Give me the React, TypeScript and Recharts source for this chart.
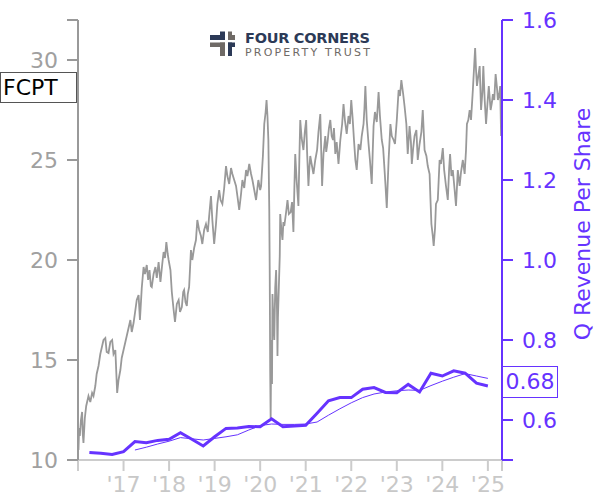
import React from 'react';
import { LineChart, Line, XAxis, YAxis } from 'recharts';

// close price, sampled (decimal year, price)
const priceSeries: [number, number][] = [
  [2016.01, 10.5], [2016.025, 11.6], [2016.04, 11.2], [2016.065, 12.0], [2016.09, 12.4],
  [2016.105, 11.3], [2016.12, 10.85], [2016.15, 12.1], [2016.18, 12.7], [2016.2, 12.9],
  [2016.23, 13.2], [2016.27, 12.9], [2016.31, 13.35], [2016.34, 13.2], [2016.38, 13.7],
  [2016.41, 14.3], [2016.45, 14.7], [2016.49, 15.3], [2016.53, 15.7], [2016.56, 16.0],
  [2016.6, 16.1], [2016.63, 15.4], [2016.67, 15.35], [2016.71, 15.9], [2016.75, 16.0],
  [2016.78, 15.3], [2016.82, 15.5], [2016.86, 13.35], [2016.89, 14.0], [2016.93, 14.5],
  [2016.96, 15.1], [2017.0, 15.5], [2017.04, 15.9], [2017.07, 16.2], [2017.11, 16.6],
  [2017.15, 17.0], [2017.18, 16.4], [2017.22, 16.85], [2017.26, 17.5], [2017.29, 18.0],
  [2017.33, 18.25], [2017.36, 17.0], [2017.4, 18.6], [2017.44, 19.65], [2017.47, 19.3],
  [2017.51, 19.75], [2017.54, 19.0], [2017.57, 19.5], [2017.6, 18.7], [2017.62, 18.65],
  [2017.66, 19.3], [2017.7, 19.65], [2017.73, 19.1], [2017.77, 19.9], [2017.81, 18.9],
  [2017.85, 19.8], [2017.88, 20.4], [2017.91, 20.1], [2017.94, 20.9], [2017.97, 20.3],
  [2017.99, 20.0], [2018.03, 19.5], [2018.06, 18.4], [2018.1, 17.5], [2018.13, 16.9],
  [2018.17, 17.8], [2018.21, 18.0], [2018.24, 17.4], [2018.28, 17.65], [2018.31, 18.4],
  [2018.33, 18.5], [2018.36, 17.9], [2018.39, 17.7], [2018.41, 18.3], [2018.44, 18.65],
  [2018.48, 20.5], [2018.51, 20.0], [2018.55, 20.6], [2018.59, 21.0], [2018.62, 22.0],
  [2018.66, 21.5], [2018.7, 21.2], [2018.73, 20.8], [2018.77, 21.5], [2018.81, 21.8],
  [2018.85, 21.4], [2018.88, 22.2], [2018.92, 23.2], [2018.95, 22.0], [2018.99, 20.8],
  [2019.03, 21.8], [2019.06, 22.8], [2019.1, 23.5], [2019.13, 23.0], [2019.17, 22.8],
  [2019.21, 23.6], [2019.25, 24.7], [2019.28, 24.2], [2019.32, 23.8], [2019.36, 24.6],
  [2019.39, 24.3], [2019.43, 24.0], [2019.47, 23.7], [2019.5, 23.2], [2019.54, 22.5],
  [2019.58, 23.3], [2019.61, 24.0], [2019.65, 23.6], [2019.69, 24.5], [2019.72, 24.2],
  [2019.76, 24.8], [2019.8, 24.3], [2019.83, 24.0], [2019.87, 23.5], [2019.91, 23.0],
  [2019.94, 23.6], [2019.96, 24.0], [2020.0, 23.5], [2020.02, 23.7], [2020.06, 25.2],
  [2020.09, 26.8], [2020.12, 27.4], [2020.14, 28.0], [2020.16, 27.2], [2020.18, 26.0],
  [2020.2, 22.5], [2020.21, 19.3], [2020.22, 14.5], [2020.23, 12.1], [2020.24, 15.0],
  [2020.25, 16.0], [2020.26, 13.8], [2020.27, 18.3], [2020.29, 17.0], [2020.31, 16.0],
  [2020.33, 18.6], [2020.35, 19.5], [2020.37, 17.4], [2020.38, 15.2], [2020.39, 17.1],
  [2020.41, 18.65], [2020.43, 20.2], [2020.44, 22.3], [2020.47, 21.4], [2020.49, 21.0],
  [2020.51, 21.9], [2020.53, 21.7], [2020.57, 22.4], [2020.6, 23.0], [2020.63, 22.3],
  [2020.67, 22.4], [2020.7, 22.9], [2020.73, 21.4], [2020.75, 23.5], [2020.77, 25.3],
  [2020.8, 24.0], [2020.84, 22.7], [2020.86, 25.0], [2020.88, 27.0], [2020.91, 26.1],
  [2020.95, 25.5], [2020.98, 26.4], [2021.01, 27.0], [2021.03, 25.4], [2021.06, 23.7],
  [2021.08, 24.6], [2021.1, 25.2], [2021.13, 24.8], [2021.17, 24.3], [2021.21, 25.0],
  [2021.25, 25.5], [2021.28, 26.4], [2021.32, 27.3], [2021.34, 25.5], [2021.36, 23.7],
  [2021.39, 25.3], [2021.43, 26.2], [2021.45, 25.4], [2021.48, 25.9], [2021.51, 26.6],
  [2021.54, 27.0], [2021.57, 26.2], [2021.6, 26.0], [2021.62, 26.6], [2021.65, 25.3],
  [2021.68, 25.9], [2021.72, 24.8], [2021.76, 26.0], [2021.8, 26.8], [2021.83, 27.8],
  [2021.86, 27.0], [2021.9, 26.3], [2021.94, 27.2], [2021.97, 26.8], [2022.0, 28.0],
  [2022.03, 27.1], [2022.06, 26.0], [2022.09, 25.0], [2022.12, 24.5], [2022.16, 25.8],
  [2022.2, 25.5], [2022.23, 26.2], [2022.27, 26.8], [2022.29, 27.6], [2022.31, 28.7],
  [2022.34, 27.0], [2022.38, 25.8], [2022.41, 25.0], [2022.45, 23.8], [2022.47, 25.3],
  [2022.49, 26.7], [2022.52, 27.4], [2022.56, 26.9], [2022.6, 28.4], [2022.63, 27.2],
  [2022.67, 26.0], [2022.7, 25.6], [2022.72, 24.9], [2022.75, 23.8], [2022.78, 22.6],
  [2022.82, 25.0], [2022.86, 26.8], [2022.89, 26.2], [2022.93, 26.0], [2022.96, 25.8],
  [2023.0, 27.0], [2023.04, 28.5], [2023.07, 28.2], [2023.1, 29.0], [2023.14, 28.3],
  [2023.17, 27.7], [2023.21, 26.8], [2023.24, 25.3], [2023.28, 26.7], [2023.31, 25.9],
  [2023.33, 24.8], [2023.36, 25.6], [2023.39, 26.2], [2023.43, 26.5], [2023.46, 25.0],
  [2023.5, 25.8], [2023.54, 26.4], [2023.57, 27.5], [2023.61, 25.5], [2023.65, 25.2],
  [2023.68, 24.7], [2023.72, 24.3], [2023.74, 23.0], [2023.76, 21.8], [2023.79, 21.2],
  [2023.81, 20.7], [2023.84, 21.6], [2023.86, 22.8], [2023.9, 23.0], [2023.92, 24.0],
  [2023.94, 25.0], [2023.97, 24.8], [2024.01, 25.6], [2024.04, 24.5], [2024.08, 23.7],
  [2024.12, 23.0], [2024.15, 24.6], [2024.17, 25.3], [2024.2, 24.2], [2024.23, 24.5],
  [2024.27, 23.5], [2024.3, 22.7], [2024.34, 24.5], [2024.38, 23.7], [2024.41, 24.4],
  [2024.45, 25.0], [2024.49, 24.3], [2024.52, 25.5], [2024.54, 26.8], [2024.57, 27.0],
  [2024.6, 27.5], [2024.63, 27.0], [2024.67, 28.5], [2024.72, 30.6], [2024.74, 29.5],
  [2024.76, 28.7], [2024.79, 29.2], [2024.82, 29.7], [2024.85, 27.5], [2024.88, 28.4],
  [2024.9, 29.7], [2024.93, 28.0], [2024.96, 26.8], [2024.99, 27.8], [2025.02, 28.7],
  [2025.06, 27.5], [2025.09, 27.9], [2025.11, 28.3], [2025.14, 28.0], [2025.17, 29.3],
  [2025.2, 28.6], [2025.22, 28.0], [2025.25, 28.3], [2025.27, 28.7], [2025.29, 26.2],
];

const quarters = [
  2016.25, 2016.5, 2016.75, 2017.0, 2017.25, 2017.5, 2017.75, 2018.0, 2018.25,
  2018.5, 2018.75, 2019.0, 2019.25, 2019.5, 2019.75, 2020.0, 2020.25, 2020.5,
  2020.75, 2021.0, 2021.25, 2021.5, 2021.75, 2022.0, 2022.25, 2022.5, 2022.75,
  2023.0, 2023.25, 2023.5, 2023.75, 2024.0, 2024.25, 2024.5, 2024.75, 2025.0,
];

const revenuePerShare = [
  0.519, 0.517, 0.514, 0.521, 0.546, 0.543, 0.549, 0.552, 0.568,
  0.552, 0.535, 0.558, 0.579, 0.58, 0.584, 0.583, 0.603, 0.583,
  0.585, 0.587, 0.617, 0.648, 0.656, 0.656, 0.677, 0.681, 0.669,
  0.668, 0.689, 0.67, 0.717, 0.71, 0.723, 0.717, 0.692, 0.685,
];

// trailing average, starts 2017.25
const revenueAvg = [
  0.525, 0.532, 0.54, 0.547, 0.556, 0.553, 0.55, 0.554, 0.558,
  0.563, 0.575, 0.586, 0.59, 0.589, 0.589, 0.59, 0.595, 0.612,
  0.628, 0.643, 0.656, 0.665, 0.67, 0.673, 0.675, 0.674, 0.686,
  0.697, 0.707, 0.716, 0.71, 0.704,
];

const xTicks = [2016, 2017, 2018, 2019, 2020, 2021, 2022, 2023, 2024, 2025, 2025.31];
const priceTicks = [10, 15, 20, 25, 30, 32];
const revTicks = [0.5, 0.6, 0.8, 1.0, 1.2, 1.4, 1.6];

const GRAY = '#999999';
const PURPLE = '#6633ff';
const FONT = 'DejaVu Sans';

const priceData = priceSeries.map(([t, price]) => ({ t, price }));
const revData = quarters.map((t, i) => ({ t, rev: revenuePerShare[i] }));
const avgData = quarters.slice(4).map((t, i) => ({ t, avg: revenueAvg[i] }));

function Logo() {
  const navy = '#2c3a57';
  const grey = '#6f6a66';
  return (
    <svg width={600} height={500} style={{ position: 'absolute', left: 0, top: 0, pointerEvents: 'none' }}>
      <rect x={210} y={35} width={15} height={5} fill={navy} />
      <rect x={220} y={31.5} width={5} height={8.5} fill={navy} />
      <rect x={228} y={35} width={7} height={5} fill={grey} />
      <rect x={228} y={31.5} width={4} height={8.5} fill={grey} />
      <rect x={210} y={42.5} width={15} height={4.5} fill={grey} />
      <rect x={220} y={42.5} width={5} height={13.5} fill={grey} />
      <rect x={228} y={42.5} width={7} height={4.5} fill={navy} />
      <rect x={228} y={42.5} width={4} height={13.5} fill={navy} />
      <text x={245} y={43} fontFamily={FONT} fontWeight="bold" fontSize={14.5} fill={navy}
        textLength={125} lengthAdjust="spacing">FOUR CORNERS</text>
      <text x={245} y={56} fontFamily={FONT} fontSize={11} fill={grey}
        textLength={125} lengthAdjust="spacing">PROPERTY TRUST</text>
    </svg>
  );
}

export default function App() {
  return (
    <div style={{ position: 'absolute', left: 0, top: 0, width: 600, height: 500, background: '#fff', fontFamily: FONT }}>
      <LineChart width={600} height={500} margin={{ top: 20, right: 0, bottom: 0, left: 0 }}>
        <XAxis
          dataKey="t"
          type="number"
          domain={[2016, 2025.31]}
          allowDataOverflow
          ticks={xTicks}
          interval={0}
          tickFormatter={(t: number) => (Number.isInteger(t) && t > 2016 ? `'${String(t).slice(2)}` : '')}
          height={40}
          stroke="#cccccc"
          strokeWidth={2}
          tickSize={11}
          tickMargin={5}
          tick={{ fill: '#c8c8c8', fontSize: 22, fontFamily: FONT }}
        />
        <YAxis
          yAxisId="p"
          domain={[10, 32]}
          allowDataOverflow
          ticks={priceTicks}
          interval={0}
          tickFormatter={(v: number) => (v === 32 ? '' : String(v))}
          width={78}
          stroke={GRAY}
          strokeWidth={2}
          tickSize={11}
          tickMargin={9}
          tick={{ fill: '#a0a0a0', fontSize: 22, fontFamily: FONT }}
        />
        <YAxis
          yAxisId="r"
          orientation="right"
          domain={[0.5, 1.6]}
          allowDataOverflow
          ticks={revTicks}
          interval={0}
          tickFormatter={(v: number) => (v === 0.5 ? '' : v.toFixed(1))}
          width={98}
          stroke={PURPLE}
          strokeWidth={2}
          tickSize={11}
          tickMargin={9}
          tick={{ fill: PURPLE, fontSize: 22, fontFamily: FONT }}
          label={{
            content: () => (
              <text x={582} y={224} transform="rotate(-90 582 224)" textAnchor="middle"
                dominantBaseline="central" fill={PURPLE} fontSize={22} fontFamily={FONT}>
                Q Revenue Per Share
              </text>
            ),
          }}
        />
        <Line yAxisId="p" data={priceData} dataKey="price" type="linear" stroke={GRAY}
          strokeWidth={1.8} dot={false} isAnimationActive={false} />
        <Line yAxisId="r" data={avgData} dataKey="avg" type="linear" stroke={PURPLE}
          strokeWidth={1} dot={false} isAnimationActive={false} />
        <Line yAxisId="r" data={revData} dataKey="rev" type="linear" stroke={PURPLE}
          strokeWidth={3} dot={false} isAnimationActive={false} />
      </LineChart>
      <Logo />
      <div style={{
        position: 'absolute', left: 0, top: 72, width: 77, height: 31, boxSizing: 'border-box',
        border: '1px solid #555', background: '#fff', color: '#000', fontSize: 22,
        lineHeight: '29px', paddingLeft: 2,
      }}>FCPT</div>
      <div style={{
        position: 'absolute', left: 502, top: 366, width: 56, height: 32, boxSizing: 'border-box',
        border: `1.5px solid ${PURPLE}`, background: '#fff', color: PURPLE, fontSize: 22,
        lineHeight: '29px', textAlign: 'center',
      }}>0.68</div>
    </div>
  );
}
